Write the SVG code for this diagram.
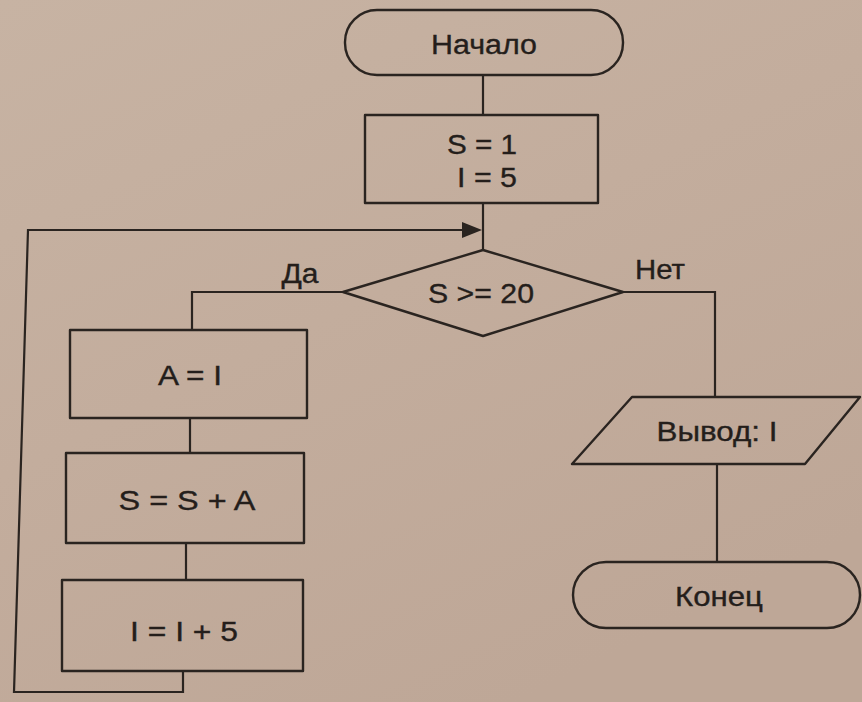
<svg xmlns="http://www.w3.org/2000/svg" width="862" height="702" viewBox="0 0 862 702">
  <defs>
    <linearGradient id="paper" x1="0" y1="0" x2="0.6" y2="1">
      <stop offset="0" stop-color="#c7b3a3"/>
      <stop offset="0.5" stop-color="#c3ad9d"/>
      <stop offset="1" stop-color="#bea797"/>
    </linearGradient>
    <style>
      .shape { fill: none; stroke: #2a2420; stroke-width: 2.4; stroke-linejoin: round; }
      .wire { fill: none; stroke: #2a2420; stroke-width: 2.2; }
      .lbl { font-family: "Liberation Sans", Arial, sans-serif; font-size: 27px; fill: #241e1b; stroke: #241e1b; stroke-width: 0.35; text-anchor: middle; }
    </style>
  </defs>

  <rect width="862" height="702" fill="url(#paper)"/>

  <!-- connectors -->
  <g id="connectors">
    <path class="wire" d="M483,75 V115"/>
    <path class="wire" d="M483,203 V250"/>
    <path class="wire" d="M343,292 H192 V330"/>
    <path class="wire" d="M190,418 V453"/>
    <path class="wire" d="M186,543 V580"/>
    <path class="wire" d="M183,671 V692 H14 L28,230 H472"/>
    <path d="M462,222 L482,230 L462,238 Z" fill="#2a2420"/>
    <path class="wire" d="M623,292 H715 V397"/>
    <path class="wire" d="M717,464 V562"/>
    <text class="lbl" x="300" y="283" textLength="37" lengthAdjust="spacingAndGlyphs">Да</text>
    <text class="lbl" x="660" y="279" textLength="50" lengthAdjust="spacingAndGlyphs">Нет</text>
  </g>

  <g id="start">
    <rect class="shape" x="345" y="10" width="278" height="65" rx="32" ry="32"/>
    <text class="lbl" x="484" y="54" textLength="106" lengthAdjust="spacingAndGlyphs">Начало</text>
  </g>

  <g id="init">
    <rect class="shape" x="365" y="115" width="233" height="88"/>
    <text class="lbl" x="482" y="154" textLength="70" lengthAdjust="spacingAndGlyphs">S = 1</text>
    <text class="lbl" x="487" y="187" textLength="60" lengthAdjust="spacingAndGlyphs">I = 5</text>
  </g>

  <g id="check">
    <polygon class="shape" points="483,250 623,292 483,336 343,292"/>
    <text class="lbl" x="481" y="303" textLength="106" lengthAdjust="spacingAndGlyphs">S &gt;= 20</text>
  </g>

  <g id="assign-a">
    <rect class="shape" x="70" y="330" width="237" height="88"/>
    <text class="lbl" x="190" y="385" textLength="64" lengthAdjust="spacingAndGlyphs">A = I</text>
  </g>

  <g id="add-s">
    <rect class="shape" x="66" y="453" width="238" height="90"/>
    <text class="lbl" x="187" y="510" textLength="137" lengthAdjust="spacingAndGlyphs">S = S + A</text>
  </g>

  <g id="step-i">
    <rect class="shape" x="62" y="580" width="241" height="91"/>
    <text class="lbl" x="184" y="641" textLength="108" lengthAdjust="spacingAndGlyphs">I = I + 5</text>
  </g>

  <g id="output">
    <polygon class="shape" points="632,397 860,397 805,464 572,464"/>
    <text class="lbl" x="717" y="441" textLength="121" lengthAdjust="spacingAndGlyphs">Вывод: I</text>
  </g>

  <g id="end">
    <rect class="shape" x="573" y="562" width="287" height="66" rx="33" ry="33"/>
    <text class="lbl" x="719" y="606" textLength="88" lengthAdjust="spacingAndGlyphs">Конец</text>
  </g>
</svg>
